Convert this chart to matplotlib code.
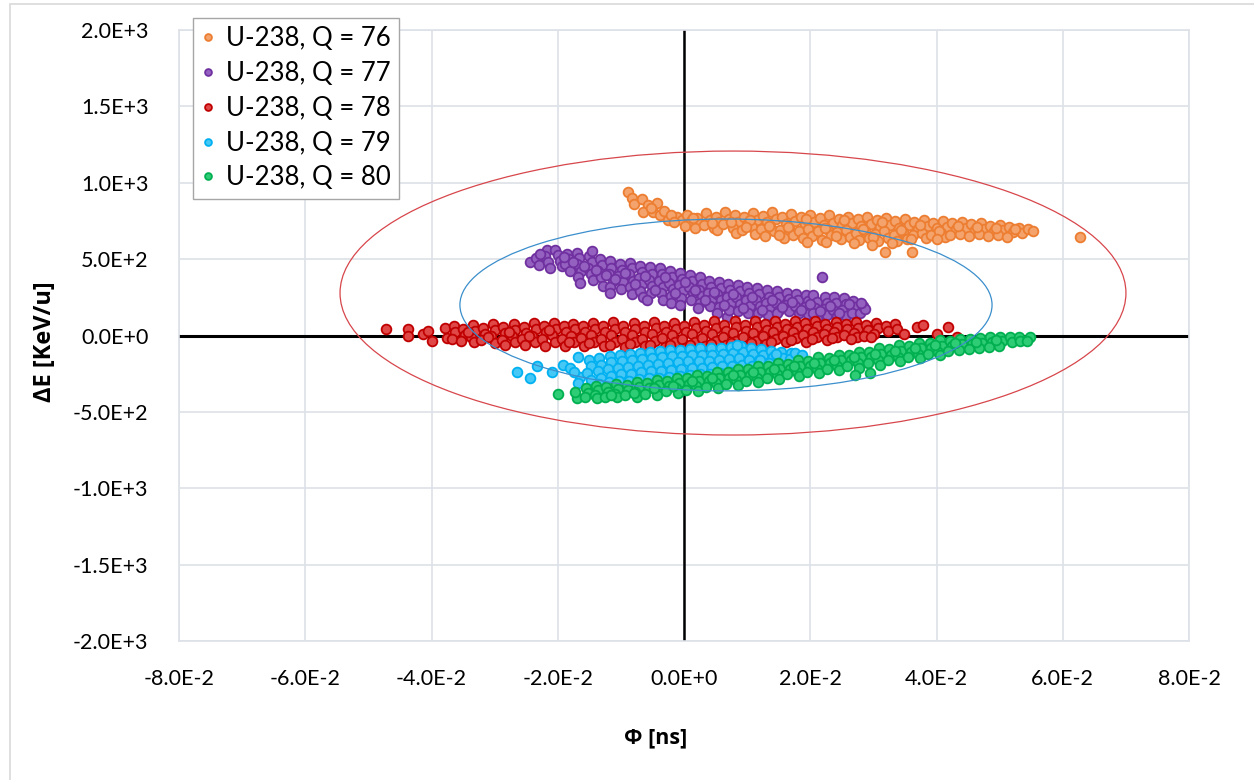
import numpy as np
import matplotlib
matplotlib.use("Agg")
import matplotlib.pyplot as plt
from matplotlib.patches import Ellipse, Rectangle

plt.rcParams['font.family'] = ['Lato', 'DejaVu Sans']

# ---------------- data (phi in 1e-3 ns, dE in keV/u) ----------------
series_names = ["U-238, Q = 76", "U-238, Q = 77", "U-238, Q = 78",
                "U-238, Q = 79", "U-238, Q = 80"]
edge_colors = ["#ED7D31", "#7030A0", "#C00000", "#00B0F0", "#00B050"]
face_colors = ["#F3A36B", "#9461C0", "#E04848", "#45C8F5", "#2ECC74"]

q76 = [(-8.9,939),(-8.2,900),(-7.9,861),(-6.7,893),(-5.7,854),(-4.3,867),(-6.5,808),(-4.9,808),
       (-3.8,789),(-2.5,756),(-1.1,776),(-0.3,756),(-5.2,832),(-3.1,818),(-2.0,792),(-1.6,742),
       (0.5,791),(1.1,752),(0.2,716),(2.0,772),(2.6,733),(1.7,703),(3.5,801),(4.1,758),(3.2,722),
       (5.0,779),(5.6,746),(4.7,701),(5.3,688),(6.5,808),(7.1,764),(6.2,727),
       (8.0,788),(8.6,743),(7.7,702),(8.3,668),(9.5,774),(10.1,736),(9.2,689),
       (11.0,799),(11.6,758),(10.7,713),(11.3,664),(12.5,784),(13.1,741),(12.2,696),(12.8,649),
       (14.0,806),(14.6,762),(13.7,719),(14.3,681),(15.5,779),(16.1,733),(15.2,691),(15.8,641),
       (17.0,794),(17.6,752),(16.7,706),(17.3,661),(18.5,776),(19.1,729),(18.2,684),(18.8,636),
       (20.0,789),(20.6,746),(19.7,699),(20.3,651),(21.5,771),(22.1,724),(21.2,681),(21.8,626),
       (23.0,786),(23.6,739),(22.7,694),(23.3,656),(24.5,764),(25.1,721),(24.2,676),(24.8,631),
       (26.0,779),(26.6,736),(25.7,689),(26.3,646),(27.5,761),(28.1,714),(27.2,671),(27.8,624),
       (29.0,776),(29.6,729),(28.7,686),(29.3,641),(30.5,754),(31.1,711),(30.2,664),(30.8,621),
       (32.0,771),(32.6,724),(31.7,681),(32.3,636),(33.5,751),(34.1,706),(33.2,659),(33.8,618),
       (35.0,764),(35.6,721),(34.7,676),(35.3,631),(36.5,746),(37.1,699),(36.2,656),
       (38.0,756),(38.6,714),(37.7,671),(38.3,641),(39.5,739),(40.1,701),(39.2,659),
       (41.0,751),(41.6,709),(40.7,669),(41.3,646),(42.5,734),(43.1,696),(42.2,661),
       (44.0,744),(44.6,704),(43.7,666),(45.5,731),(46.1,689),(45.2,654),
       (47.0,736),(47.6,699),(46.7,664),(48.5,719),(49.1,686),(48.2,651),
       (50.0,726),(50.6,689),(49.7,659),(51.5,711),(52.1,679),(51.2,646),
       (53.0,704),(53.6,674),(54.5,696),(55.3,684),
       (22.5,610),(27.0,605),(33.0,603),(19.5,612),
       (1.4,770),(4.4,735),(7.4,745),(10.4,755),(13.4,720),(16.4,712),(19.4,760),(22.4,703),
       (25.4,755),(28.4,700),(31.4,745),(34.4,690),(37.4,725),(40.4,685),(43.4,720),(46.4,712),
       (49.4,705),(52.4,695),(9.9,710),(15.0,655),(24.0,650),(30.0,648),(36.0,632),(40.0,630),
       (62.7,645),(31.8,546),(36.1,546),(29.8,592)]

q77 = [(-24.4,481),(-23.5,505),(-23.0,462),
       (-21.7,560),(-22.0,520),(-21.5,480),(-21.2,445),
       (-20.4,560),(-20.0,525),(-19.7,490),(-19.4,455),
       (-18.5,535),(-18.2,500),(-18.8,465),(-18.0,425),
       (-17.0,540),(-16.6,505),(-16.9,468),(-16.3,420),(-16.8,380),(-16.5,343),
       (-15.0,520),(-14.6,482),(-15.2,445),(-14.8,405),(-14.4,365),
       (-14.6,553),(-13.3,500),(-13.0,460),(-13.6,420),(-13.1,380),(-12.8,325),
       (-11.8,485),(-11.5,445),(-11.9,405),(-11.3,360),(-11.7,318),(-11.7,278),
       (-10.2,470),(-9.9,430),(-10.4,390),(-9.7,350),(-10.0,305),
       (-8.6,475),(-8.3,440),(-8.7,400),(-8.1,360),(-8.5,320),(-8.2,270),
       (-7.0,455),(-6.7,415),(-7.2,375),(-6.6,335),(-6.9,290),(-6.5,250),
       (-5.4,450),(-5.1,405),(-5.6,365),(-5.0,325),(-5.3,280),(-5.9,232),
       (-3.8,440),(-3.5,400),(-3.9,360),(-3.3,320),(-3.7,275),(-3.4,235),
       (-2.2,420),(-1.9,385),(-2.4,345),(-1.8,305),(-2.1,260),(-2.0,215),
       (-0.6,410),(-0.3,370),(-0.8,330),(-0.2,290),(-0.5,245),(-0.6,200),
       (1.0,395),(1.3,355),(0.8,315),(1.4,275),(1.1,235),
       (2.5,383),(2.8,340),(2.3,300),(2.9,258),(2.6,215),(2.2,180),
       (4.0,360),(4.3,320),(3.8,280),(4.4,240),(4.1,195),
       (5.5,350),(5.8,310),(5.3,270),(5.9,230),(5.6,185),(5.2,145),
       (7.0,335),(7.3,295),(6.8,255),(7.4,215),(6.8,121),(7.1,170),
       (8.5,330),(8.8,290),(8.3,250),(8.9,205),(8.6,160),
       (10.0,315),(10.3,275),(9.8,235),(10.4,195),(10.1,150),
       (11.6,311),(11.9,270),(11.4,230),(12.0,190),(11.7,145),
       (13.2,295),(13.5,255),(13.0,215),(13.6,175),(13.3,135),
       (14.7,290),(15.0,250),(14.5,210),(15.1,170),(14.7,147),
       (16.3,280),(16.6,240),(16.1,200),(16.7,160),
       (17.8,270),(18.1,235),(17.6,195),(18.2,150),
       (19.3,265),(19.6,225),(19.1,185),(19.7,140),
       (20.4,265),(21.0,220),(20.7,180),(21.1,115),(20.5,145),
       (22.3,255),(22.6,215),(22.1,175),(22.7,135),
       (23.8,250),(24.1,210),(23.6,170),(24.2,130),
       (25.3,248),(25.6,205),(25.1,165),(25.7,125),
       (26.8,225),(27.1,185),(26.6,150),
       (27.9,147),(28.4,190),(28.7,175),(28.0,215),
       (-22.8,535),(-19.0,512),(-17.6,480),(-15.9,455),(-14.0,430),(-12.3,395),(-10.9,372),
       (-9.3,410),(-7.8,340),(-6.2,390),(-4.6,300),(-3.0,380),(-1.4,275),(0.2,350),(1.8,295),
       (3.3,230),(4.8,285),(6.3,200),(7.8,270),(9.3,180),(10.8,255),(12.4,165),(13.9,230),
       (15.6,185),(17.1,220),(18.6,170),(20.0,205),(21.6,160),(23.1,195),(24.6,150),(26.2,205),
       (21.9,383)]

q78 = [(-47.2,43),(-43.7,43),(-43.7,0),(-41.3,10),(-40.5,30),(-39.9,-36),
       (-37.9,49),(-37.6,-16),(-36.5,62),(-36.2,25),(-36.8,-20),
       (-35.0,45),(-34.7,5),(-35.3,-35),(-33.4,70),(-33.1,30),(-33.7,-10),(-33.2,-45),
       (-31.8,50),(-31.5,12),(-32.1,-28),(-30.2,75),(-29.9,35),(-30.5,-5),(-30.0,-48),
       (-28.6,55),(-28.3,15),(-28.9,-30),(-28.4,-62),(-27.0,78),(-26.7,38),(-27.3,-2),(-26.8,-45),
       (-25.4,58),(-25.1,18),(-25.7,-25),(-25.2,-65),(-23.8,80),(-23.5,40),(-24.1,0),(-23.6,-42),
       (-22.2,60),(-21.9,20),(-22.5,-22),(-22.0,-70),(-20.6,82),(-20.3,42),(-20.9,3),(-20.4,-40),
       (-19.0,62),(-18.7,22),(-19.3,-20),(-18.8,-68),(-17.6,75),(-17.3,40),(-17.9,0),(-17.4,-45),
       (-16.0,65),(-15.7,25),(-16.3,-18),(-15.8,-72),(-14.4,85),(-14.1,45),(-14.7,5),(-14.2,-40),
       (-12.8,62),(-12.5,22),(-13.1,-22),(-12.6,-70),(-11.2,88),(-10.9,45),(-11.5,3),(-11.0,-45),
       (-9.6,65),(-9.3,25),(-9.9,-20),(-9.4,-75),(-8.0,85),(-7.7,45),(-8.3,5),(-7.8,-42),
       (-6.4,62),(-6.1,22),(-6.7,-22),(-6.2,-72),(-4.8,88),(-4.5,48),(-5.1,8),(-4.6,-38),
       (-3.2,65),(-2.9,25),(-3.5,-18),(-3.0,-75),(-1.6,85),(-1.3,45),(-1.9,5),(-1.4,-45),
       (0.0,62),(0.3,22),(-0.3,-20),(0.2,-80),(1.6,90),(1.9,50),(1.3,10),(1.8,-40),
       (3.2,68),(3.5,28),(2.9,-15),(3.4,-70),(4.8,92),(5.1,52),(4.5,12),(5.0,-35),
       (6.4,70),(6.7,30),(6.1,-12),(6.6,-65),(8.0,95),(8.3,55),(7.7,15),(8.2,-35),
       (9.6,72),(9.9,32),(9.3,-10),(9.8,-70),(11.2,92),(11.5,55),(10.9,15),(11.4,-35),
       (12.8,75),(13.1,35),(12.5,-5),(13.0,-55),(14.4,95),(14.7,58),(14.1,20),(14.6,-25),
       (16.0,78),(16.3,40),(15.7,0),(16.2,-45),(17.6,92),(17.9,58),(17.3,22),(17.8,-15),
       (19.2,80),(19.5,42),(18.9,5),(19.4,-40),(20.8,95),(21.1,60),(20.5,25),(21.0,-10),
       (22.4,78),(22.7,42),(22.1,8),(22.6,-30),(24.0,90),(24.3,55),(23.7,20),(24.2,-8),
       (25.6,75),(25.9,40),(25.3,5),(27.2,88),(27.5,52),(26.9,18),(27.4,-10),
       (28.8,70),(29.1,35),(28.5,0),(30.4,82),(30.7,48),(30.1,12),
       (32.0,65),(32.3,28),(33.5,75),(33.8,40),(34.8,10),
       (-34.2,20),(-31.0,-10),(-27.8,25),(-24.6,-5),(-21.4,35),(-18.2,-45),(-15.0,-50),
       (-11.8,-60),(-8.6,-55),(-5.4,-60),(-2.2,-62),(1.0,-65),(4.2,-55),(7.4,-50),
       (10.6,-50),(13.8,-40),(17.0,-30),(20.2,-25),(23.4,-15),(26.4,-20),(29.6,-8),
       (36.9,56),(37.9,69),(40.1,10),(41.8,56),(43.2,-10)]

q79 = [(-26.5,-239),(-24.4,-278),(-23.3,-200),(-20.9,-239),(-19.2,-193),(-16.8,-141),
       (-16.5,-271),(-16.8,-311),(-18.0,-215),(-17.5,-240),
       (-15.0,-160),(-14.7,-200),(-15.3,-245),(-14.8,-290),
       (-13.4,-150),(-13.1,-190),(-13.7,-235),(-13.2,-280),(-13.5,-320),
       (-11.8,-135),(-11.5,-175),(-12.1,-220),(-11.6,-265),(-11.9,-305),
       (-10.2,-130),(-9.9,-170),(-10.5,-215),(-10.0,-255),(-10.3,-300),
       (-8.6,-120),(-8.3,-160),(-8.9,-205),(-8.4,-250),(-8.7,-295),
       (-7.0,-115),(-6.7,-155),(-7.3,-200),(-6.8,-240),(-7.1,-285),(-6.9,-325),
       (-5.4,-105),(-5.1,-150),(-5.7,-190),(-5.2,-235),(-5.5,-280),(-5.3,-320),
       (-3.8,-100),(-3.5,-140),(-4.1,-185),(-3.6,-230),(-3.9,-275),(-3.7,-320),
       (-2.2,-95),(-1.9,-135),(-2.5,-180),(-2.0,-225),(-2.3,-270),(-2.1,-315),
       (-0.6,-95),(-0.3,-135),(-0.9,-175),(-0.4,-220),(-0.7,-265),(-0.5,-310),(-0.8,-345),
       (1.0,-90),(1.3,-130),(0.7,-170),(1.2,-215),(0.9,-260),(1.1,-305),
       (2.6,-85),(2.9,-125),(2.3,-165),(2.8,-210),(2.5,-255),(2.7,-300),(2.4,-340),
       (4.2,-85),(4.5,-125),(3.9,-165),(4.4,-205),(4.1,-250),(4.3,-295),
       (5.8,-80),(6.1,-120),(5.5,-160),(6.0,-200),(5.7,-245),(5.9,-290),(5.6,-330),
       (7.4,-75),(7.7,-115),(7.1,-155),(7.6,-200),(7.3,-240),(7.5,-285),
       (9.0,-70),(9.3,-110),(8.7,-150),(9.2,-195),(8.9,-235),(9.1,-280),
       (10.6,-80),(10.9,-120),(10.3,-160),(10.8,-200),(10.5,-245),
       (12.2,-90),(12.5,-130),(11.9,-160),(12.4,-205),
       (13.8,-100),(14.1,-140),(13.5,-180),
       (15.4,-110),(15.7,-150),(15.1,-185),
       (8.4,-62),(12.0,-160),(14.6,-120),
       (17.0,-115),(16.8,-155),(17.6,-115),(18.7,-128)]

q80 = [(-20.0,-383),(-17.0,-409),(-17.3,-370),
       (-15.5,-345),(-15.2,-375),(-15.7,-405),
       (-13.9,-330),(-13.6,-360),(-14.1,-390),(-13.8,-410),
       (-12.3,-340),(-12.0,-370),(-12.5,-400),
       (-10.7,-320),(-10.4,-350),(-10.9,-380),(-10.6,-405),
       (-9.1,-325),(-8.8,-355),(-9.3,-390),
       (-7.5,-305),(-7.2,-335),(-7.7,-370),(-7.4,-400),
       (-5.9,-310),(-5.6,-345),(-6.1,-380),
       (-4.3,-290),(-4.0,-325),(-4.5,-360),(-4.2,-392),
       (-2.7,-295),(-2.4,-330),(-2.9,-365),
       (-1.1,-275),(-0.8,-310),(-1.3,-345),(-1.0,-378),
       (0.5,-280),(0.8,-318),(0.3,-355),
       (2.1,-260),(2.4,-295),(1.9,-330),(2.2,-362),
       (3.7,-262),(4.0,-298),(3.5,-335),
       (5.3,-240),(5.6,-275),(5.1,-312),(5.4,-342),
       (6.9,-240),(7.2,-278),(6.7,-315),
       (8.5,-220),(8.8,-258),(8.3,-292),(8.6,-322),
       (10.1,-222),(10.4,-258),(9.9,-295),
       (11.7,-200),(12.0,-238),(11.5,-275),(11.8,-305),
       (13.3,-202),(13.6,-240),(13.1,-275),
       (14.9,-180),(15.2,-218),(14.7,-255),(15.0,-285),
       (16.5,-185),(16.8,-220),(16.3,-255),
       (18.1,-162),(18.4,-200),(17.9,-238),(18.2,-265),
       (19.7,-165),(20.0,-200),(19.5,-238),
       (21.3,-142),(21.6,-180),(21.1,-218),(21.4,-248),
       (22.9,-145),(23.2,-180),(22.7,-218),
       (24.5,-125),(24.8,-162),(24.3,-198),(24.6,-228),
       (26.1,-125),(26.4,-162),(25.9,-198),
       (27.7,-105),(28.0,-142),(27.5,-180),(27.8,-210),
       (29.3,-108),(29.6,-142),(29.1,-180),
       (30.9,-85),(31.2,-122),(30.7,-160),(31.0,-190),
       (32.5,-88),(32.8,-125),(32.3,-160),
       (34.1,-65),(34.4,-102),(33.9,-140),(34.2,-168),
       (35.7,-68),(36.0,-105),(35.5,-140),
       (37.3,-48),(37.6,-85),(37.1,-122),(37.4,-148),
       (38.9,-50),(39.2,-85),(38.7,-120),
       (40.5,-32),(40.8,-68),(40.3,-105),(40.6,-130),
       (42.1,-35),(42.4,-70),(41.9,-102),
       (43.7,-25),(44.0,-58),(43.5,-92),
       (45.3,-25),(45.6,-58),(45.1,-90),
       (46.9,-18),(47.2,-50),(46.7,-82),
       (48.5,-12),(48.8,-45),(48.3,-75),
       (50.1,-8),(50.4,-38),(49.9,-68),
       (51.7,-10),(52.0,-40),(53.0,-8),(53.3,-34),
       (-11.5,-390),(-8.0,-375),(-4.8,-345),(-1.8,-330),(1.2,-300),(4.4,-280),(7.7,-258),
       (11.0,-240),(14.2,-222),(17.4,-200),(20.6,-182),(23.8,-162),(27.0,-142),(30.2,-122),
       (33.4,-102),(36.6,-85),(39.8,-65),(43.0,-50),(46.2,-40),(49.4,-30),
       (54.8,-10),(54.3,-36),
       (27.1,-259),(29.5,-245)]

all_series = [q76, q77, q78, q79, q80]

# ellipses (phi in ns, dE in keV/u)
ellipse_centers = [(0.00776, 278), (0.00665, 200)]
ellipse_widths = [0.1245, 0.0843]
ellipse_heights = [1859, 1125]
ellipse_colors = ["#D7464B", "#3B8FCC"]

x_ticks = [-0.08, -0.06, -0.04, -0.02, 0.0, 0.02, 0.04, 0.06, 0.08]
x_tick_labels = ["-8.0E-2", "-6.0E-2", "-4.0E-2", "-2.0E-2", "0.0E+0",
                 "2.0E-2", "4.0E-2", "6.0E-2", "8.0E-2"]
y_ticks = [-2000, -1500, -1000, -500, 0, 500, 1000, 1500, 2000]
y_tick_labels = ["-2.0E+3", "-1.5E+3", "-1.0E+3", "-5.0E+2", "0.0E+0",
                 "5.0E+2", "1.0E+3", "1.5E+3", "2.0E+3"]

# ---------------- figure ----------------
W, H = 1254, 780
fig = plt.figure(figsize=(W / 100, H / 100), dpi=100)
fig.patches.append(Rectangle((10 / W, -0.1), 1.2, 1 - 4 / H + 0.1,
                             transform=fig.transFigure, fill=False,
                             edgecolor="#D9D9D9", lw=1.2, zorder=0))
ax = fig.add_axes([179 / W, 1 - 641 / H, (1189 - 179) / W, (641 - 30) / H])
ax.set_axisbelow(True)

ax.set_xlim(-0.08, 0.08)
ax.set_ylim(-2000, 2000)
ax.set_xticks(x_ticks)
ax.set_xticklabels(x_tick_labels)
ax.set_yticks(y_ticks)
ax.set_yticklabels(y_tick_labels)
ax.tick_params(axis="both", length=0, labelsize=15.5, colors="#000000")
ax.tick_params(axis="x", pad=20)
ax.tick_params(axis="y", pad=22)
ax.grid(True, color="#DDE1E8", lw=1.2)
for s in ax.spines.values():
    s.set_color("#DDE1E8")
    s.set_linewidth(1.2)

ax.axhline(0, color="black", lw=2.2, zorder=2)
ax.axvline(0, color="black", lw=1.8, zorder=2)

for name, pts, ec, fc in zip(series_names, all_series, edge_colors, face_colors):
    arr = np.array(pts, dtype=float)
    ax.plot(arr[:, 0] * 1e-3, arr[:, 1], linestyle="none", marker="o",
            markersize=7.0, markerfacecolor=fc, markeredgecolor=ec,
            markeredgewidth=1.3, label=name, zorder=3)

for c, w, h, col in zip(ellipse_centers, ellipse_widths, ellipse_heights, ellipse_colors):
    ax.add_patch(Ellipse(c, w, h, fill=False, edgecolor=col, lw=0.9, zorder=4))

ax.set_xlabel("Φ [ns]", fontsize=15.5, fontweight="bold", family=["Open Sans", "DejaVu Sans"])
ax.xaxis.set_label_coords((656 - 179) / 1010, (641 - 727) / 611)
ax.set_ylabel("ΔE [KeV/u]", fontsize=17, fontweight="bold", family=["Open Sans", "DejaVu Sans"])
ax.yaxis.set_label_coords((57 - 179) / 1010, 0.49)

leg = ax.legend(loc="upper left", bbox_to_anchor=(193 / W, 1 - 18 / H),
                bbox_transform=fig.transFigure, borderaxespad=0,
                fancybox=False, edgecolor="#A6A6A6", framealpha=1,
                fontsize=18.5, markerscale=0.7, handlelength=0.5,
                handletextpad=0.45, labelspacing=0.38, borderpad=0.32)
leg.get_frame().set_linewidth(1.0)
leg.set_zorder(10)

fig.savefig("out.png", dpi=100)
